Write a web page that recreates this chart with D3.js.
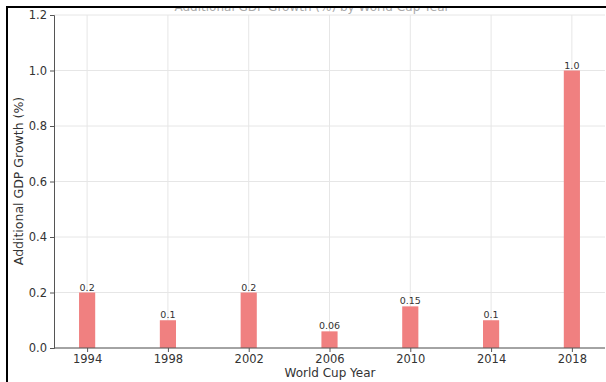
<!DOCTYPE html>
<html><head><meta charset="utf-8">
<script src="https://cdn.jsdelivr.net/npm/d3@7"></script>
<style>body{margin:0;background:#fff}svg{display:block}</style>
</head><body>
<svg id="c" width="606" height="382"></svg>
<script>
const years = [1994, 1998, 2002, 2006, 2010, 2014, 2018];
const growth = [0.2, 0.1, 0.2, 0.06, 0.15, 0.1, 1.0];
const barLabels = ["0.2", "0.1", "0.2", "0.06", "0.15", "0.1", "1.0"];
const yTicks = [0.0, 0.2, 0.4, 0.6, 0.8, 1.0, 1.2];
const title = "Additional GDP Growth (%) by World Cup Year";

const svg = d3.select("#c");
const font = "DejaVu Sans, sans-serif";
const x = d3.scaleLinear().domain([1992.36, 2019.64]).range([54, 605]);
const y = d3.scaleLinear().domain([0, 1.2]).range([348, 15]);
const bw = x(1994.4) - x(1993.6);

// title (mostly hidden behind the frame)
svg.append("text").attr("x", 312).attr("y", 10.5).attr("text-anchor", "middle")
  .attr("font-family", font).attr("font-size", 12).attr("fill", "#aaa").text(title);
svg.append("rect").attr("x", 0).attr("y", 0).attr("width", 606).attr("height", 8).attr("fill", "#fff");

// grid
const g = svg.append("g");
g.selectAll(".gx").data(years).join("line")
  .attr("x1", d => x(d)).attr("x2", d => x(d)).attr("y1", y(0)).attr("y2", y(1.2))
  .attr("stroke", "#e6e6e6").attr("stroke-width", 1);
g.selectAll(".gy").data(yTicks).join("line")
  .attr("x1", x.range()[0]).attr("x2", x.range()[1]).attr("y1", d => y(d)).attr("y2", d => y(d))
  .attr("stroke", "#e6e6e6").attr("stroke-width", 1);

// bars
svg.selectAll(".bar").data(years).join("rect")
  .attr("x", d => x(d) - bw / 2).attr("width", bw)
  .attr("y", (d, i) => y(growth[i])).attr("height", (d, i) => y(0) - y(growth[i]))
  .attr("fill", "#f08080");
svg.selectAll(".bl").data(years).join("text")
  .attr("x", d => x(d)).attr("y", (d, i) => y(growth[i]) - 2)
  .attr("text-anchor", "middle").attr("font-family", font).attr("font-size", 9.5)
  .attr("fill", "#333").text((d, i) => barLabels[i]);

// axes
const xa = svg.append("g").attr("transform", `translate(0,${y(0)})`)
  .call(d3.axisBottom(x).tickValues(years).tickFormat(d3.format("d")).tickSize(4).tickPadding(3));
const ya = svg.append("g").attr("transform", `translate(${x.range()[0]},0)`)
  .call(d3.axisLeft(y).tickValues(yTicks).tickFormat(d3.format(".1f")).tickSize(4).tickPadding(3));
[xa, ya].forEach(a => {
  a.select(".domain").attr("stroke", "#555");
  a.selectAll(".tick line").attr("stroke", "#555");
  a.selectAll("text").attr("font-family", font).attr("font-size", 11.5).attr("fill", "#333");
});
xa.select(".domain").attr("d", `M${x.range()[0]},0H${x.range()[1]}`);

// axis labels
svg.append("text").attr("x", 330).attr("y", 377).attr("text-anchor", "middle")
  .attr("font-family", font).attr("font-size", 12).attr("fill", "#333").text("World Cup Year");
svg.append("text").attr("transform", "translate(23,181) rotate(-90)").attr("text-anchor", "middle")
  .attr("font-family", font).attr("font-size", 12.5).attr("fill", "#333").text("Additional GDP Growth (%)");

// frame
svg.append("path").attr("d", "M7,382V7H606").attr("fill", "none").attr("stroke", "#000").attr("stroke-width", 2);
</script>
</body></html>
